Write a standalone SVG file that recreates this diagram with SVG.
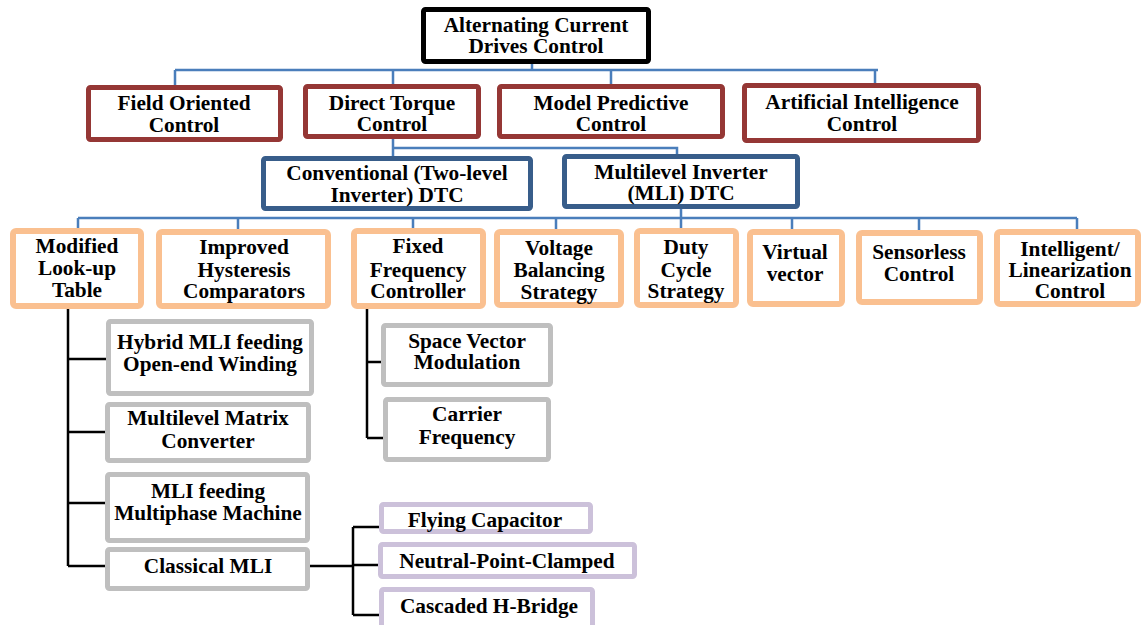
<svg xmlns="http://www.w3.org/2000/svg" width="1144" height="625" viewBox="0 0 1144 625">
<style>
text{font-family:"Liberation Serif","Times New Roman",serif;font-weight:bold;font-size:21.3px;text-anchor:middle;fill:#000}
.b{fill:#fff;stroke:#000;stroke-width:5}
.r{fill:#fff;stroke:#953735;stroke-width:5}
.u{fill:#fff;stroke:#385d8a;stroke-width:5}
.o{fill:#fff;stroke:#fac090;stroke-width:6}
.g{fill:#fff;stroke:#bfbfbf;stroke-width:5}
.p{fill:#fff;stroke:#ccc1da;stroke-width:5}
.cb{fill:none;stroke:#4a7ebb;stroke-width:2.5}
.ck{fill:none;stroke:#000;stroke-width:2.5}
</style>
<rect width="1144" height="625" fill="#fff"/>
<g id="connectors">
<path class="cb" d="M532,64V70M175,70H878M175,70V85M393,70V84M611,70V84M875,70V83M393,139V156M393,148H677V154M681,209V228M78,218H1077M78,218V228M238,218V229M413,218V228M556,218V229M792,218V229M919,218V230M1077,218V229"/>
<path class="ck" d="M68,309V566M68,359H106M68,432H105M68,503H105M68,566H105M367,309V438M367,362H381M367,438H383M310,566H353M353,527V615M353,527H379M353,565H378M353,615H379"/>
</g>
<g id="n-acdc"><rect class="b" x="423.5" y="9.5" width="225" height="52" rx="2"/><text x="536" y="32">Alternating Current</text><text x="536" y="53">Drives Control</text></g>
<g id="n-foc"><rect class="r" x="88.5" y="87.5" width="192" height="52" rx="2"/><text x="184" y="110">Field Oriented</text><text x="184" y="132">Control</text></g>
<g id="n-dtc"><rect class="r" x="305.5" y="86.5" width="173" height="50" rx="2"/><text x="392" y="110">Direct Torque</text><text x="392" y="131">Control</text></g>
<g id="n-mpc"><rect class="r" x="499.5" y="86.5" width="223" height="50" rx="2"/><text x="611" y="110">Model Predictive</text><text x="611" y="131">Control</text></g>
<g id="n-aic"><rect class="r" x="744.5" y="85.5" width="234" height="55" rx="2"/><text x="862" y="109">Artificial Intelligence</text><text x="862" y="131">Control</text></g>
<g id="n-conv"><rect class="u" x="263.5" y="158.5" width="267" height="50" rx="2"/><text x="397" y="180">Conventional (Two-level</text><text x="397" y="202">Inverter) DTC</text></g>
<g id="n-mli"><rect class="u" x="564.5" y="156.5" width="233" height="50" rx="2"/><text x="681" y="179">Multilevel Inverter</text><text x="681" y="200">(MLI) DTC</text></g>
<g id="n-mlut"><rect class="o" x="13" y="231" width="128" height="75" rx="3"/><text x="77" y="253">Modified</text><text x="77" y="275">Look-up</text><text x="77" y="297">Table</text></g>
<g id="n-ihc"><rect class="o" x="159" y="232" width="169" height="74" rx="3"/><text x="244" y="254">Improved</text><text x="244" y="277">Hysteresis</text><text x="244" y="298">Comparators</text></g>
<g id="n-ffc"><rect class="o" x="354" y="231" width="129" height="75" rx="3"/><text x="418" y="253">Fixed</text><text x="418" y="277">Frequency</text><text x="418" y="298">Controller</text></g>
<g id="n-vbs"><rect class="o" x="497" y="232" width="124" height="73" rx="3"/><text x="559" y="255">Voltage</text><text x="559" y="277">Balancing</text><text x="559" y="299">Strategy</text></g>
<g id="n-dcs"><rect class="o" x="637" y="231" width="99" height="74" rx="3"/><text x="686" y="254">Duty</text><text x="686" y="277">Cycle</text><text x="686" y="298">Strategy</text></g>
<g id="n-vv"><rect class="o" x="750" y="232" width="92" height="72" rx="3"/><text x="795" y="259">Virtual</text><text x="795" y="281">vector</text></g>
<g id="n-sc"><rect class="o" x="859" y="233" width="121" height="69" rx="3"/><text x="919" y="259">Sensorless</text><text x="919" y="281">Control</text></g>
<g id="n-ilc"><rect class="o" x="997" y="232" width="141" height="72" rx="3"/><text x="1070" y="256">Intelligent/</text><text x="1070" y="277">Linearization</text><text x="1070" y="298">Control</text></g>
<g id="n-hybrid"><rect class="g" x="108.5" y="321.5" width="203" height="72" rx="2"/><text x="210" y="349">Hybrid MLI feeding</text><text x="210" y="371">Open-end Winding</text></g>
<g id="n-mmc"><rect class="g" x="107.5" y="404.5" width="201" height="56" rx="2"/><text x="208" y="425">Multilevel Matrix</text><text x="208" y="448">Converter</text></g>
<g id="n-mpm"><rect class="g" x="107.5" y="474.5" width="200" height="66" rx="2"/><text x="208" y="498">MLI feeding</text><text x="208" y="520">Multiphase Machine</text></g>
<g id="n-cmli"><rect class="g" x="107.5" y="549.5" width="200" height="39" rx="2"/><text x="208" y="573">Classical MLI</text></g>
<g id="n-svm"><rect class="g" x="383.5" y="325.5" width="167" height="59" rx="2"/><text x="467" y="348">Space Vector</text><text x="467" y="369">Modulation</text></g>
<g id="n-cf"><rect class="g" x="385.5" y="399.5" width="163" height="60" rx="2"/><text x="467" y="421">Carrier</text><text x="467" y="444">Frequency</text></g>
<g id="n-fc"><rect class="p" x="381.5" y="504.5" width="209" height="27" rx="2"/><text x="485" y="527">Flying Capacitor</text></g>
<g id="n-npc"><rect class="p" x="380.5" y="544.5" width="254" height="32" rx="2"/><text x="507" y="568">Neutral-Point-Clamped</text></g>
<g id="n-chb"><rect class="p" x="381.5" y="589.5" width="211" height="40" rx="2"/><text x="489" y="613">Cascaded H-Bridge</text></g>
</svg>
